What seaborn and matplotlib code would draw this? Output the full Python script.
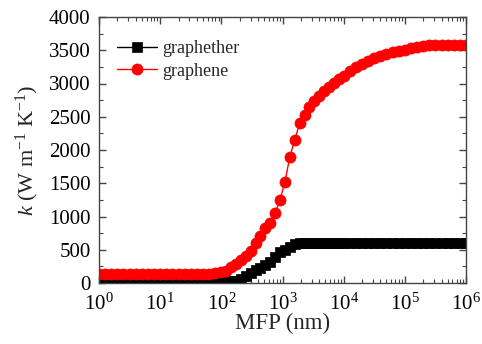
import numpy as np
import seaborn as sns
import matplotlib.pyplot as plt
from matplotlib.ticker import LogLocator, MultipleLocator, NullFormatter

# log10 of MFP (nm)
log_mfp = [0.0, 0.1, 0.2, 0.3, 0.4, 0.5, 0.6, 0.7, 0.8, 0.9,
           1.0, 1.1, 1.2, 1.3, 1.4, 1.5, 1.6, 1.7, 1.8, 1.9,
           2.0, 2.08, 2.16, 2.24, 2.32, 2.40, 2.48, 2.56, 2.64, 2.72,
           2.80, 2.88, 2.96, 3.04, 3.12, 3.20, 3.28, 3.36, 3.44, 3.52,
           3.60, 3.68, 3.76, 3.84, 3.92, 4.0, 4.1, 4.2, 4.3, 4.4,
           4.5, 4.6, 4.7, 4.8, 4.9, 5.0, 5.1, 5.2, 5.3, 5.4,
           5.5, 5.6, 5.7, 5.8, 5.9, 6.0]

graphether = [20, 20, 20, 20, 20, 20, 20, 20, 20, 20,
              20, 20, 20, 20, 20, 20, 20, 20, 20, 20,
              20, 25, 30, 35, 55, 100, 155, 195, 230, 270,
              320, 390, 460, 495, 540, 585, 605, 605, 605, 605,
              605, 605, 605, 605, 605, 605, 605, 605, 605, 605,
              605, 605, 605, 605, 605, 605, 605, 605, 605, 605,
              605, 605, 605, 605, 605, 605]

graphene = [130, 130, 130, 130, 130, 130, 130, 130, 130, 130,
            130, 130, 130, 130, 130, 130, 132, 135, 140, 148,
            160, 185, 240, 290, 340, 400, 480, 600, 710, 820,
            900, 1050, 1250, 1520, 1900, 2150, 2400, 2530, 2640, 2730,
            2810, 2880, 2950, 3010, 3070, 3120, 3190, 3250, 3295, 3340,
            3380, 3415, 3445, 3470, 3490, 3510, 3530, 3550, 3565, 3572,
            3575, 3578, 3578, 3578, 3578, 3578]

mfp = [10 ** v for v in log_mfp]

sns.set_style("ticks")
plt.rcParams['font.family'] = ['Liberation Serif', 'DejaVu Serif']
plt.rcParams['mathtext.fontset'] = 'custom'
plt.rcParams['mathtext.rm'] = 'Liberation Serif'
plt.rcParams['mathtext.it'] = 'Liberation Serif:italic'

fig = plt.figure(figsize=(4.82, 3.44), dpi=100)
ax = fig.add_axes([99 / 482, 1 - 283 / 344, 367 / 482, 266 / 344])

sns.lineplot(x=mfp, y=graphether, ax=ax, color='black', marker='s', markersize=7,
             mec='black', mew=0.5, lw=1, label='graphether')
sns.lineplot(x=mfp, y=graphene, ax=ax, color='red', marker='o', markersize=8,
             mec='red', mew=0.5, lw=1, label='graphene')

ax.set_xscale('log')
ax.set_xlim(1, 1e6)
ax.set_ylim(0, 4000)
ax.xaxis.set_major_locator(LogLocator(base=10, numticks=10))
ax.xaxis.set_minor_locator(LogLocator(base=10, subs=np.arange(2, 10), numticks=20))
ax.xaxis.set_minor_formatter(NullFormatter())
ax.yaxis.set_major_locator(MultipleLocator(500))
ax.yaxis.set_minor_locator(MultipleLocator(250))

ax.tick_params(which='both', direction='in', top=True, right=True, colors='#444444',
               labelcolor='black', labelsize=15)
ax.tick_params(axis='y', pad=6)
ax.tick_params(axis='x', pad=7.5)
ax.tick_params(which='major', length=5, width=1)
ax.tick_params(which='minor', length=3, width=0.8)
for s in ax.spines.values():
    s.set_color('#444444')
    s.set_linewidth(1)

ax.set_xlabel('MFP (nm)', fontsize=16.5, labelpad=-1)
ax.set_ylabel('$k$ (W m$^{-1}$ K$^{-1}$)', fontsize=16, labelpad=6)

ax.legend(loc='upper left', bbox_to_anchor=(0.03, 0.94), frameon=False, fontsize=13,
          handlelength=2.2, handletextpad=0.3, borderaxespad=0, labelspacing=0.3)

fig.savefig('out.png', dpi=100)
